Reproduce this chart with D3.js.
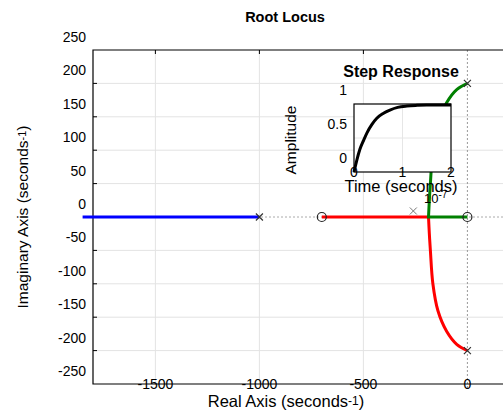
<!DOCTYPE html>
<html>
<head>
<meta charset="utf-8">
<script src="https://cdn.jsdelivr.net/npm/d3@7"></script>
<style>
  body { margin: 0; background: #fff; }
  svg { font-family: "Liberation Sans", Arial, sans-serif; display: block; }
</style>
</head>
<body>
<div id="chart"></div>
<script>
// root locus data
var xTicks = [-1500, -1000, -500, 0];
var yTicks = [250, 200, 150, 100, 50, 0, -50, -100, -150, -200, -250];
var poles = [[-1000, 0], [0, 200], [0, -200]];
var zeros = [[-700, 0], [0, 0]];
var strayMark = [[-260, 9]];
var blueBranch = [[-1850, 0], [-1000, 0]];
var redBranch = [[-700, 0], [-187, 0], [-183, -25], [-178, -50], [-166, -100], [-142, -140],
                 [-100, -171], [-50, -191], [0, -200]];
var greenBranch = [[0, 0], [-187, 0], [-183, 25], [-178, 50], [-166, 100], [-142, 140],
                   [-100, 171], [-50, 191], [0, 200]];

// step response inset
var stepTime = [0, 0.06, 0.12, 0.2, 0.27, 0.37, 0.47, 0.6, 0.74, 0.9, 1.09, 1.3, 1.5, 1.75, 2.0];
var stepAmp  = [0, 0.18, 0.33, 0.47, 0.58, 0.7, 0.79, 0.86, 0.91, 0.95, 0.97, 0.98, 0.985, 0.985, 0.985];
var insetXTicks = [0, 1, 2];
var insetYTicks = [0, 0.5, 1];

var W = 503, H = 411;
var svg = d3.select("#chart").append("svg")
    .attr("width", W).attr("height", H);

var x = d3.scaleLinear().domain([-1800, 200]).range([93, 509]);
var y = d3.scaleLinear().domain([-250, 250]).range([384, 50]);

// grid
svg.append("g").selectAll("line")
    .data(xTicks.filter(function(d){ return d != 0; }))
  .enter().append("line")
    .attr("x1", function(d){ return x(d); }).attr("x2", function(d){ return x(d); })
    .attr("y1", y(250)).attr("y2", y(-250))
    .attr("stroke", "#e3e3e3").attr("stroke-width", 1);
svg.append("g").selectAll("line")
    .data(yTicks.filter(function(d){ return d != 0 && d != 250 && d != -250; }))
  .enter().append("line")
    .attr("x1", x(-1800)).attr("x2", W)
    .attr("y1", function(d){ return y(d); }).attr("y2", function(d){ return y(d); })
    .attr("stroke", "#e3e3e3").attr("stroke-width", 1);

// dotted zero lines
svg.append("line")
    .attr("x1", x(-1800)).attr("x2", W).attr("y1", y(0)).attr("y2", y(0))
    .attr("stroke", "#aaa").attr("stroke-dasharray", "2,2");
svg.append("line")
    .attr("x1", x(0)).attr("x2", x(0)).attr("y1", y(250)).attr("y2", y(-250) + 4)
    .attr("stroke", "#999").attr("stroke-dasharray", "2,2");

// axes frame
svg.append("path")
    .attr("d", "M" + W + "," + y(250) + "H" + x(-1800) + "V" + y(-250) + "H" + W)
    .attr("fill", "none").attr("stroke", "#000").attr("stroke-width", 1.2);

// tick marks
svg.append("g").selectAll("line")
    .data(yTicks.filter(function(d){ return d != 250 && d != -250; }))
  .enter().append("line")
    .attr("x1", x(-1800)).attr("x2", x(-1800) + 4)
    .attr("y1", function(d){ return y(d); }).attr("y2", function(d){ return y(d); })
    .attr("stroke", "#000");
svg.append("g").selectAll("line")
    .data(xTicks.filter(function(d){ return d != 0; }))
  .enter().append("line")
    .attr("x1", function(d){ return x(d); }).attr("x2", function(d){ return x(d); })
    .attr("y1", y(250)).attr("y2", y(250) + 4)
    .attr("stroke", "#000");

// tick labels (drawn shifted up as in the picture)
svg.append("g").selectAll("text")
    .data(yTicks)
  .enter().append("text")
    .attr("x", 86).attr("y", function(d){ return y(d) - 13; })
    .attr("dy", "0.35em")
    .attr("text-anchor", "end").attr("font-size", 14)
    .text(function(d){ return d; });
svg.append("g").selectAll("text")
    .data(xTicks)
  .enter().append("text")
    .attr("x", function(d){ return x(d); }).attr("y", y(-250))
    .attr("dy", "0.35em")
    .attr("text-anchor", "middle").attr("font-size", 14)
    .text(function(d){ return d; });

// branches
var line = d3.line()
    .x(function(d){ return x(d[0]); })
    .y(function(d){ return y(d[1]); })
    .curve(d3.curveCatmullRom);
var straight = d3.line()
    .x(function(d){ return x(d[0]); })
    .y(function(d){ return y(d[1]); });

svg.append("path").attr("d", straight(blueBranch))
    .attr("fill", "none").attr("stroke", "#0000ff").attr("stroke-width", 3);
svg.append("path").attr("d", straight(redBranch.slice(0, 2)) + line(redBranch.slice(1)).replace(/^M/, "L"))
    .attr("fill", "none").attr("stroke", "#ff0000").attr("stroke-width", 3);
svg.append("path").attr("d", straight(greenBranch.slice(0, 2)) + line(greenBranch.slice(1)).replace(/^M/, "L"))
    .attr("fill", "none").attr("stroke", "#008000").attr("stroke-width", 3);

// pole / zero markers
function cross(g, pts, s, col, w) {
  g.selectAll(null).data(pts).enter().append("path")
    .attr("d", function(d){
      var cx = x(d[0]), cy = y(d[1]);
      return "M" + (cx - s) + "," + (cy - s) + "L" + (cx + s) + "," + (cy + s) +
             "M" + (cx - s) + "," + (cy + s) + "L" + (cx + s) + "," + (cy - s);
    })
    .attr("stroke", col).attr("stroke-width", w).attr("fill", "none");
}
cross(svg.append("g"), poles, 3.5, "#333", 1.2);
cross(svg.append("g"), strayMark, 3.5, "#777", 1);
svg.append("g").selectAll("circle").data(zeros).enter().append("circle")
    .attr("cx", function(d){ return x(d[0]); }).attr("cy", function(d){ return y(d[1]); })
    .attr("r", 4.5).attr("fill", "none").attr("stroke", "#222").attr("stroke-width", 1.2);

// title and axis labels
svg.append("text").attr("x", 285).attr("y", 22)
    .attr("text-anchor", "middle").attr("font-size", 14.5).attr("font-weight", "bold")
    .text("Root Locus");

var xl = svg.append("text").attr("x", 286).attr("y", 407)
    .attr("text-anchor", "middle").attr("font-size", 16.5);
xl.append("tspan").text("Real Axis (seconds");
xl.append("tspan").attr("font-size", 12).attr("dy", -2).text("-1");
xl.append("tspan").attr("dy", 2).text(")");

var yl = svg.append("text")
    .attr("transform", "translate(28,217) rotate(-90)")
    .attr("text-anchor", "middle").attr("font-size", 15.5);
yl.append("tspan").text("Imaginary Axis (seconds");
yl.append("tspan").attr("font-size", 11).attr("dy", -2).text("-1");
yl.append("tspan").attr("dy", 2).text(")");

// ---- step response inset ----
var ix = d3.scaleLinear().domain([0, 2]).range([354, 451]);
var iy = d3.scaleLinear().domain([0, 1]).range([172, 104]);

svg.append("rect")
    .attr("x", ix(0)).attr("y", iy(1))
    .attr("width", ix(2) - ix(0)).attr("height", iy(0) - iy(1))
    .attr("fill", "#fff");

svg.append("line")
    .attr("x1", ix(1)).attr("x2", ix(1)).attr("y1", iy(1)).attr("y2", iy(0))
    .attr("stroke", "#e6e6e6");
svg.append("line")
    .attr("x1", ix(0)).attr("x2", ix(2)).attr("y1", iy(0.5)).attr("y2", iy(0.5))
    .attr("stroke", "#e6e6e6");

svg.append("rect")
    .attr("x", ix(0)).attr("y", iy(1))
    .attr("width", ix(2) - ix(0)).attr("height", iy(0) - iy(1))
    .attr("fill", "none").attr("stroke", "#000").attr("stroke-width", 1.2);

var stepLine = d3.line()
    .x(function(d, i){ return ix(stepTime[i]); })
    .y(function(d){ return iy(d); })
    .curve(d3.curveMonotoneX);
svg.append("path").attr("d", stepLine(stepAmp))
    .attr("fill", "none").attr("stroke", "#000").attr("stroke-width", 3);

svg.append("g").selectAll("text").data(insetYTicks).enter().append("text")
    .attr("x", 347).attr("y", function(d){ return iy(d) - 14; })
    .attr("dy", "0.35em").attr("text-anchor", "end").attr("font-size", 14)
    .text(function(d){ return d; });
svg.append("g").selectAll("text").data(insetXTicks).enter().append("text")
    .attr("x", function(d){ return ix(d); }).attr("y", iy(0))
    .attr("dy", "0.35em").attr("text-anchor", "middle").attr("font-size", 14)
    .text(function(d){ return d; });

svg.append("text").attr("x", 401).attr("y", 77)
    .attr("text-anchor", "middle").attr("font-size", 16).attr("font-weight", "bold")
    .text("Step Response");
svg.append("text").attr("x", 401).attr("y", 192)
    .attr("text-anchor", "middle").attr("font-size", 16.5)
    .text("Time (seconds)");
svg.append("text").attr("transform", "translate(296,140) rotate(-90)")
    .attr("text-anchor", "middle").attr("font-size", 15.5)
    .text("Amplitude");
var ex = svg.append("text").attr("x", 424).attr("y", 203).attr("font-size", 13);
ex.append("tspan").text("10");
ex.append("tspan").attr("font-size", 10).attr("dy", -5).text("-7");
</script>
</body>
</html>
